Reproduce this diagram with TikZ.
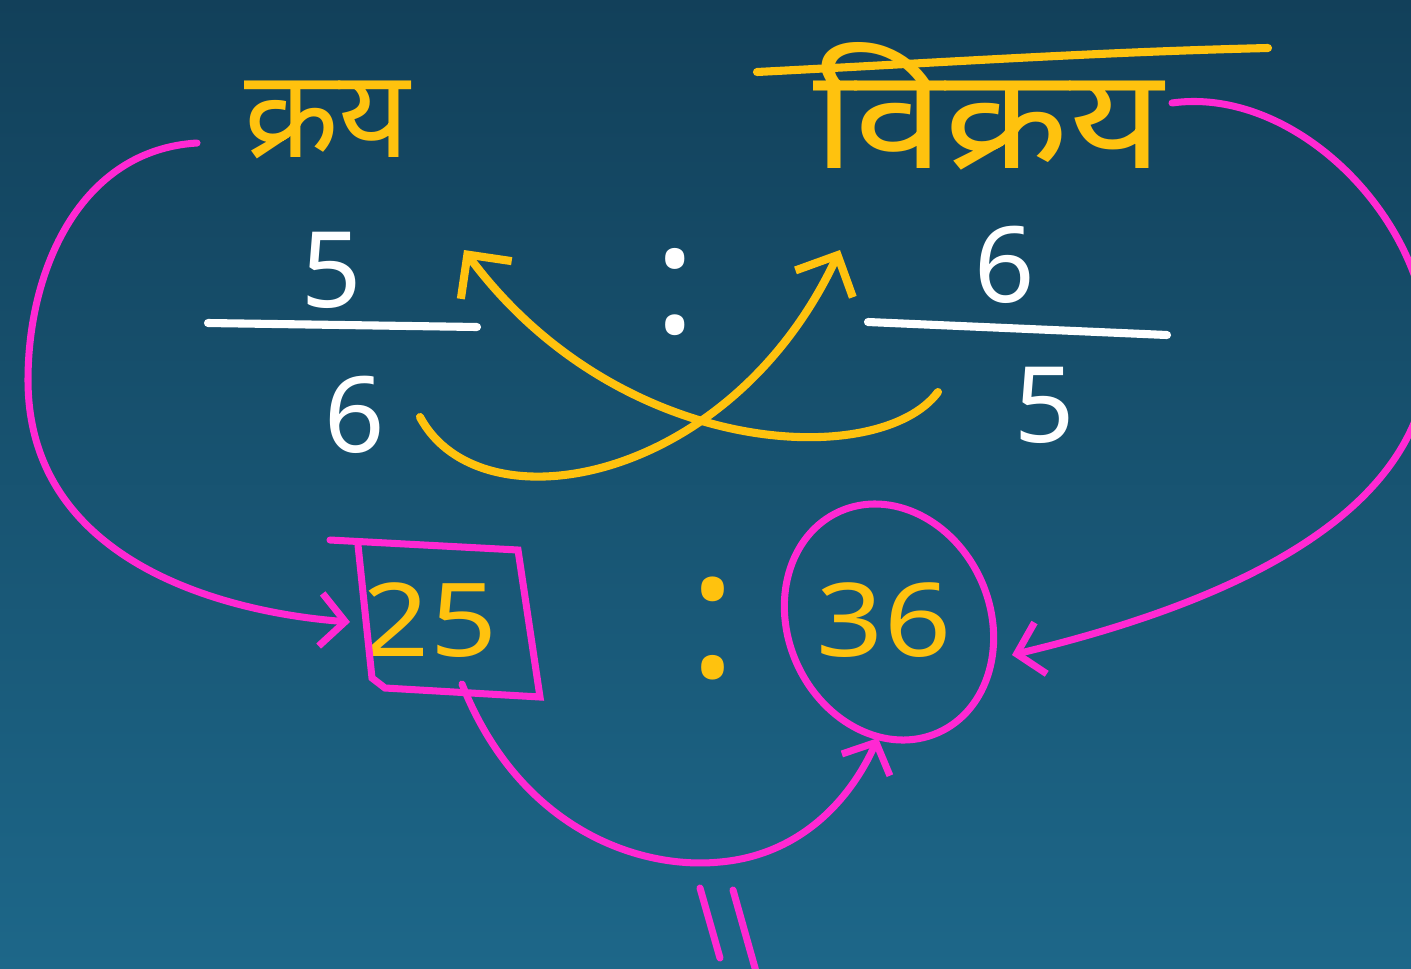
\documentclass[tikz,border=0pt]{standalone}
\usepackage{fontspec}
\setmainfont{Noto Sans}
\newfontfamily\deva[Script=Devanagari]{Noto Sans}
\usetikzlibrary{arrows.meta,shapes.geometric,calc}
\definecolor{bgtop}{RGB}{18,64,90}
\definecolor{bgbot}{RGB}{29,103,137}
\definecolor{hy}{RGB}{255,194,14}
\definecolor{hp}{RGB}{255,40,210}
\begin{document}
\begin{tikzpicture}[x=0.01cm,y=-0.01cm,
  yel/.style={draw=hy,line width=2.3pt,line cap=round},
  pnk/.style={draw=hp,line width=2pt,line cap=round},
  wbar/.style={draw=white,line width=2.3pt,line cap=round},
  num/.style={text=white,font=\fontsize{30}{36}\selectfont,inner sep=0pt},
  ynum/.style={text=hy,font=\fontsize{29}{34}\selectfont,inner sep=0pt,xscale=1.15},
  word/.style={text=hy,inner sep=0pt},
  ybarb/.style={-{Straight Barb[length=9pt,width=18pt]}},
  pbarb/.style={-{Straight Barb[length=7pt,width=15pt]}}]
\useasboundingbox (0,0) rectangle (1411,969);
\clip (0,0) rectangle (1411,969);
\shade[top color=bgtop,bottom color=bgbot] (0,0) rectangle (1411,969);

% headings
\node[word,font=\deva\fontsize{35}{40}\selectfont] (kray) at (327,120) {क्रय};
\node[word,font=\deva\fontsize{40}{46}\selectfont,xscale=1.15] (vikray) at (988,106) {विक्रय};
\draw[yel] (757,72) .. controls (950,62) and (1100,52) .. (1268,48);

% fractions
\node[num] (nL) at (332,270) {5};
\node[num] (dL) at (355,415) {6};
\node[num] (nR) at (1005,265) {6};
\node[num] (dR) at (1045,405) {5};
\node[text=white,font=\fontsize{44}{50}\selectfont,inner sep=0pt] (colT) at (675,292) {:};
\draw[wbar] (208,323) -- (477,327);
\draw[wbar] (868,322) -- (1167,335);

% crossing arrows
\coordinate (aL) at (420,417);
\coordinate (aR) at (938,392);
\coordinate (tR) at (840,250);
\coordinate (tL) at (464,250);
\draw[yel,ybarb] (aL) .. controls (480,530) and (730,485) .. (tR);
\draw[yel,ybarb] (aR) .. controls (880,470) and (620,460) .. (tL);

% result
\node[ynum] (n25) at (430,620) {25};
\node[ynum] (n36) at (884,620) {36};
\node[text=hy,font=\fontsize{52}{60}\selectfont,inner sep=0pt] (colB) at (713,628) {:};
\draw[pnk] (330,540) -- (518,550) -- (540,697) -- (385,688) -- (372,678) -- (358,545);
\coordinate (boxL) at (350,622);
\coordinate (boxB) at (462,684);
\node[ellipse,draw=hp,line width=2pt,minimum width=2.02cm,minimum height=2.42cm,rotate=24] (ring) at (889,622) {};
\coordinate (ringE) at (1012,655);
\coordinate (ringS) at (878,738);

% pink connectors
\coordinate (kL) at (197,143);
\coordinate (vR) at (1172,103);
\draw[pnk,pbarb] (kL) .. controls (80,150) and (28,270) .. (28,380)
  .. controls (28,560) and (220,612) .. (boxL);
\draw[pnk,pbarb] (vR) .. controls (1300,85) and (1440,230) .. (1428,370)
  .. controls (1410,530) and (1200,610) .. (ringE);
\draw[pnk,pbarb] (boxB) .. controls (520,830) and (640,870) .. (720,862)
  .. controls (800,855) and (850,800) .. (ringS);

% equals marks
\draw[pnk] (700,888) -- (720,958);
\draw[pnk] (733,890) -- (757,975);
\end{tikzpicture}
\end{document}
